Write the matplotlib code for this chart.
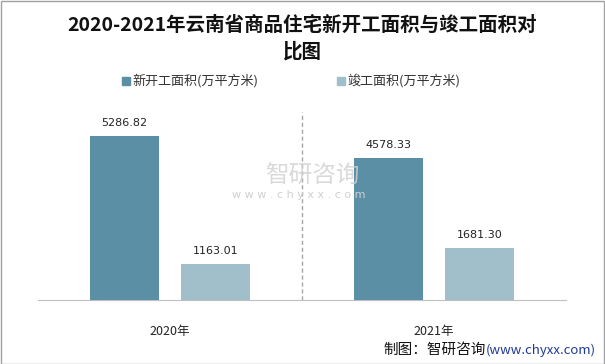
import matplotlib
matplotlib.use("Agg")
import matplotlib.pyplot as plt
from matplotlib.patches import Rectangle

plt.rcParams['font.family'] = ['Noto Sans CJK SC', 'DejaVu Sans']

categories = ["2020年", "2021年"]
series_names = ["新开工面积(万平方米)", "竣工面积(万平方米)"]
new_start = [5286.82, 4578.33]
completed = [1163.01, 1681.30]
colors = ["#5B8FA6", "#A1BFCB"]

W, H = 605, 364
fig = plt.figure(figsize=(W / 100, H / 100), dpi=100)
ax = fig.add_axes([38 / W, (H - 300) / H, 528 / W, 200 / H])

x = [0, 1]
bw = 0.262
off = 0.172
b1 = ax.bar([i - off for i in x], new_start, width=bw, color=colors[0], label=series_names[0], zorder=3)
b2 = ax.bar([i + off for i in x], completed, width=bw, color=colors[1], label=series_names[1], zorder=3)

for bars, vals in ((b1, new_start), (b2, completed)):
    for r, v in zip(bars, vals):
        ax.text(r.get_x() + r.get_width() / 2, v + 250, f"{v:.2f}", ha="center", va="bottom",
                fontsize=8, color="#222222", family=["DejaVu Sans"])

ax.set_xlim(-0.5, 1.5)
ax.set_ylim(0, 6450)
ax.set_yticks([])
ax.set_xticks(x)
ax.set_xticklabels(categories, fontsize=9, color="#222222")
ax.tick_params(axis="x", length=0, pad=18)
for s in ["top", "right", "left"]:
    ax.spines[s].set_visible(False)
ax.spines["bottom"].set_color("#BFBFBF")
ax.axvline(0.5, ymin=0, ymax=0.94, color="#A6A6A6", linestyle=(0, (3, 2)), linewidth=1, zorder=1)

# title
fig.text(0.5, 1 - 25 / H, "2020-2021年云南省商品住宅新开工面积与竣工面积对", ha="center", va="center",
         fontsize=14, fontweight="bold", color="#111111")
fig.text(0.5, 1 - 52 / H, "比图", ha="center", va="center", fontsize=14, fontweight="bold", color="#111111")

# legend
for mx, name, c in ((122, series_names[0], colors[0]), (337, series_names[1], colors[1])):
    fig.patches.append(Rectangle((mx / W, 1 - 85 / H), 8 / W, 8 / H, transform=fig.transFigure,
                                 color=c, figure=fig))
    fig.text((mx + 10) / W, 1 - 81 / H, name, ha="left", va="center", fontsize=9.4, color="#333333")

# watermark
fig.text(265 / W, 1 - 176 / H, "智研咨询", ha="left", va="center", fontsize=17, color="#D0D0D0", alpha=0.8)
fig.text(232 / W, 1 - 195 / H, "w w w . c h y x x . c o m", ha="left", va="center", fontsize=8,
         color="#D0D0D0", family=["DejaVu Sans"])

# source
t1 = fig.text(383 / W, 1 - 350 / H, "制图：智研咨询", ha="left", va="center", fontsize=10.5, color="#111111")
fig.canvas.draw()
bb = t1.get_window_extent()
fig.text(bb.x1 / W, 1 - 350 / H, "(www.chyxx.com)", ha="left", va="center", fontsize=9.5, color="#1F3A93")

# border
fig.patches.append(Rectangle((0.5 / W, 0.5 / H), (W - 1.5) / W, (H - 1.5) / H, transform=fig.transFigure,
                             fill=False, edgecolor="#A0A0A0", linewidth=1, figure=fig))

fig.savefig("out.png", dpi=100)
